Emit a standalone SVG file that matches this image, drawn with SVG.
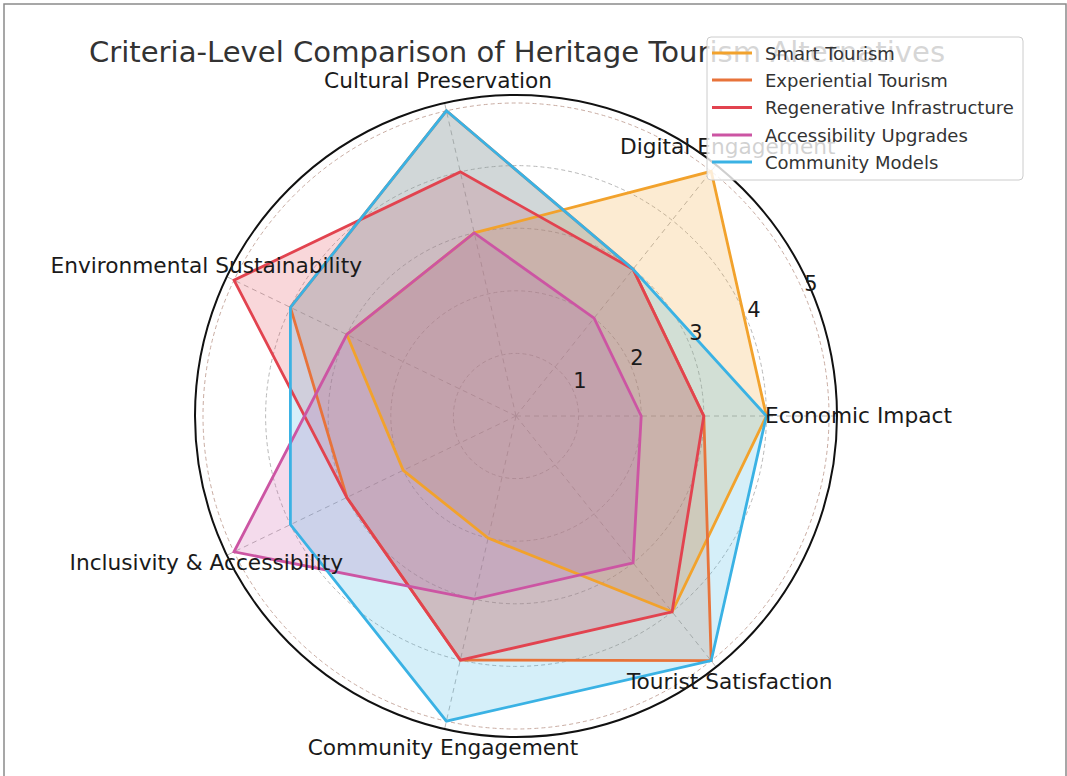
<svg xmlns="http://www.w3.org/2000/svg" width="1067" height="776" viewBox="0 0 1067 776">
<style>
text{font-family:"DejaVu Sans","Liberation Sans",sans-serif;}
.ring{fill:none;stroke:#b8b8b8;stroke-width:1;stroke-dasharray:4 3;}
.ring5{fill:none;stroke:#c9aca2;stroke-width:1;stroke-dasharray:4 3;}
.spoke{stroke:#b8b8b8;stroke-width:1;stroke-dasharray:5 4;}
.lab{font-size:21.7px;fill:#1a1a1a;}
.rl{font-size:21px;fill:#1a1a1a;text-anchor:middle;}
.area{stroke:none;fill-opacity:0.21;}
.line{fill:none;stroke-width:2.8;stroke-linejoin:miter;}
.leg{font-size:18px;fill:#333;}
.ll{stroke-width:2.8;}
</style>
<rect x="0" y="0" width="1067" height="776" fill="#ffffff"/>
<rect x="4" y="4" width="1062" height="790" fill="none" stroke="#8a8a8a" stroke-width="1.5"/>

<g id="grid">
<circle class="ring" cx="516" cy="416" r="62.6"/>
<circle class="ring" cx="516" cy="416" r="125.2"/>
<circle class="ring" cx="516" cy="416" r="187.8"/>
<circle class="ring" cx="516" cy="416" r="250.4"/>
<circle class="ring5" cx="516" cy="416" r="313"/>
<line class="spoke" x1="516" y1="416" x2="837" y2="416"/>
<line class="spoke" x1="516" y1="416" x2="716.1" y2="165"/>
<line class="spoke" x1="516" y1="416" x2="444.6" y2="103"/>
<line class="spoke" x1="516" y1="416" x2="226.8" y2="276.7"/>
<line class="spoke" x1="516" y1="416" x2="226.8" y2="555.3"/>
<line class="spoke" x1="516" y1="416" x2="444.6" y2="729"/>
<line class="spoke" x1="516" y1="416" x2="716.1" y2="667"/>
<circle cx="516" cy="416" r="321" fill="none" stroke="#111" stroke-width="2"/>
</g>

<g id="areas">
<polygon class="area" fill="#F2A22C" points="766.4,416 711.2,171.3 474.2,232.9 346.8,334.5 403.2,470.3 488.1,538.1 672.1,611.8"/>
<polygon class="area" fill="#E8733A" points="703.8,416 633.1,269.2 446.4,110.8 290.4,307.4 346.8,497.5 460.3,660.1 711.2,660.7"/>
<polygon class="area" fill="#E2434F" points="703.8,416 633.1,269.2 460.3,171.9 234,280.2 346.8,497.5 460.3,660.1 672.1,611.8"/>
<polygon class="area" fill="#CC55A3" points="641.2,416 594.1,318.1 474.2,232.9 346.8,334.5 234,551.8 474.2,599.1 633.1,562.8"/>
<polygon class="area" fill="#3AB2E4" points="766.4,416 633.1,269.2 446.4,110.8 290.4,307.4 290.4,524.6 446.4,721.2 711.2,660.7"/>
</g>

<g id="series">
<g id="smart-tourism">
<polygon class="line" stroke="#F2A22C" points="766.4,416 711.2,171.3 474.2,232.9 346.8,334.5 403.2,470.3 488.1,538.1 672.1,611.8"/>
</g>
<g id="experiential-tourism">
<polygon class="line" stroke="#E8733A" points="703.8,416 633.1,269.2 446.4,110.8 290.4,307.4 346.8,497.5 460.3,660.1 711.2,660.7"/>
</g>
<g id="regenerative-infrastructure">
<polygon class="line" stroke="#E2434F" points="703.8,416 633.1,269.2 460.3,171.9 234,280.2 346.8,497.5 460.3,660.1 672.1,611.8"/>
</g>
<g id="accessibility-upgrades">
<polygon class="line" stroke="#CC55A3" points="641.2,416 594.1,318.1 474.2,232.9 346.8,334.5 234,551.8 474.2,599.1 633.1,562.8"/>
</g>
<g id="community-models">
<polygon class="line" stroke="#3AB2E4" points="766.4,416 633.1,269.2 446.4,110.8 290.4,307.4 290.4,524.6 446.4,721.2 711.2,660.7"/>
</g>
</g>

<g id="radial-labels">
<text class="rl" x="580" y="388">1</text>
<text class="rl" x="637" y="365">2</text>
<text class="rl" x="696" y="340">3</text>
<text class="rl" x="754" y="317">4</text>
<text class="rl" x="811" y="291">5</text>
</g>

<g id="axis-labels">
<text class="lab" x="765" y="423">Economic Impact</text>
<text class="lab" x="620" y="154">Digital Engagement</text>
<text class="lab" x="438" y="88" text-anchor="middle">Cultural Preservation</text>
<text class="lab" x="362" y="273" text-anchor="end">Environmental Sustainability</text>
<text class="lab" x="343" y="570" text-anchor="end">Inclusivity &amp; Accessibility</text>
<text class="lab" x="443" y="755" text-anchor="middle">Community Engagement</text>
<text class="lab" x="627" y="689">Tourist Satisfaction</text>
</g>

<text id="title" x="517" y="62" text-anchor="middle" font-size="29.1" fill="#333">Criteria-Level Comparison of Heritage Tourism Alternatives</text>

<g id="legend">
<rect x="707" y="37" width="316" height="143" rx="4" fill="#ffffff" fill-opacity="0.8" stroke="#cccccc" stroke-width="1"/>
<line class="ll" x1="712" y1="53" x2="752" y2="53" stroke="#F2A22C"/>
<text class="leg" x="765" y="59.5">Smart Tourism</text>
<line class="ll" x1="712" y1="80" x2="752" y2="80" stroke="#E8733A"/>
<text class="leg" x="765" y="86.5">Experiential Tourism</text>
<line class="ll" x1="712" y1="107.5" x2="752" y2="107.5" stroke="#E2434F"/>
<text class="leg" x="765" y="114">Regenerative Infrastructure</text>
<line class="ll" x1="712" y1="135" x2="752" y2="135" stroke="#CC55A3"/>
<text class="leg" x="765" y="141.5">Accessibility Upgrades</text>
<line class="ll" x1="712" y1="162" x2="752" y2="162" stroke="#3AB2E4"/>
<text class="leg" x="765" y="168.5">Community Models</text>
</g>
</svg>
